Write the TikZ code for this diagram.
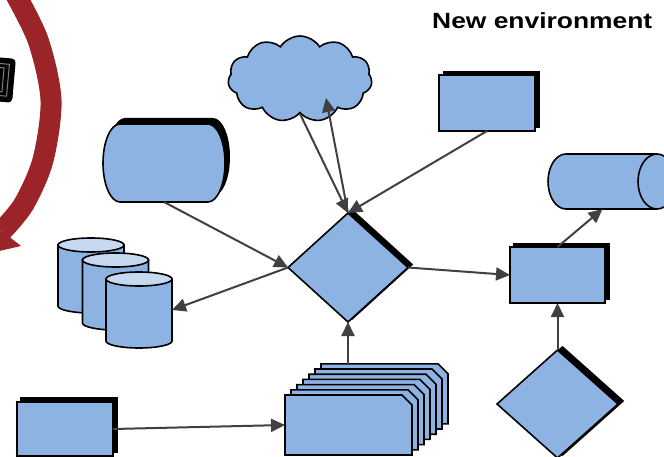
\documentclass[tikz,border=0pt]{standalone}
\usepackage{fontspec}
\setmainfont{Liberation Sans}
\usetikzlibrary{shapes.geometric,shapes.symbols,arrows.meta,calc}
\definecolor{fillblue}{HTML}{8DB3E2}
\definecolor{toplight}{HTML}{C6D9F1}
\definecolor{darkred}{HTML}{9B2428}
\definecolor{arrowgray}{HTML}{404040}
\newcommand\mycyl[4]{%
  \filldraw[blueshape] (#1-33,#2) -- (#1-33,#3) arc[start angle=180,end angle=0,x radius=33,y radius=7] -- (#1+33,#2) -- cycle;
  \filldraw[blueshape, fill=toplight] (#1,#2) ellipse [x radius=33, y radius=7];
  \node[ghost, minimum width=66pt, minimum height=70pt] (#4) at (#1,{(#2+#3)/2}) {};}
\begin{document}
\begin{tikzpicture}[x=1pt,y=-1pt,
  blueshape/.style={fill=fillblue, draw=black, line width=1.6pt},
  ghost/.style={inner sep=0pt, outer sep=0pt, draw=none, fill=none},
  bluebox/.style={blueshape, rectangle, inner sep=0pt, outer sep=0pt, minimum width=96pt, minimum height=56pt},
  dia/.style={blueshape, diamond, inner sep=0pt, outer sep=0pt, minimum width=120pt, minimum height=109pt},
  conn/.style={draw=arrowgray, line width=2pt, -{Triangle[length=14pt,width=13pt]}}]
\useasboundingbox (0,0) rectangle (664,457);
\clip (0,0) rectangle (664,457);

% red circular arrow
\draw[darkred, line width=21pt] plot[smooth] coordinates {(12,-12) (38,40) (51,100) (43,160) (24,204) (2,231)};
\fill[darkred] (21,246) -- (-16.5,254.6) -- (-16.9,216.2) -- cycle;

% black device icon
\begin{scope}[rotate around={-5:(5,80)}]
  \fill[black, rounded corners=4pt] (-14,58) rectangle (14,102);
  \draw[gray, line width=1pt] (-9,64) rectangle (8,96);
  \draw[gray, line width=1pt] (-4,68) rectangle (3,92);
\end{scope}

% title
\node[anchor=base west, inner sep=0pt, font=\bfseries\fontsize{22}{26}\selectfont] (title) at (432,28.3) {\scalebox{1.2}[1]{New environment}};

% cloud
\node[cloud, blueshape, cloud puffs=11, cloud puff arc=115, aspect=1.73, minimum width=144pt, minimum height=86pt, inner sep=0pt] (cloud) at (300,79) {};
\coordinate (cloudin) at (326,98);

% top right rectangle
\node[bluebox, fill=black] at (491.5,99.5) {};
\node[bluebox] (r1) at (487,103) {};

% left drum
\begin{scope}[shift={(5,-6)}]
  \fill[black] (120,124) -- (208,124) arc[start angle=-90,end angle=90,x radius=17,y radius=39] -- (120,202) arc[start angle=90,end angle=270,x radius=17,y radius=39] -- cycle;
\end{scope}
\filldraw[blueshape] (120,124) -- (208,124) arc[start angle=-90,end angle=90,x radius=17,y radius=39] -- (120,202) arc[start angle=90,end angle=270,x radius=17,y radius=39] -- cycle;
\node[ghost, minimum width=122pt, minimum height=78pt] (drum) at (164,163) {};

% cylinders
\mycyl{91}{245}{306}{cylA}
\mycyl{115.5}{260}{323}{cylB}
\mycyl{139}{279}{341}{cylC}

% central diamond
\node[dia, fill=black] at (352,264.5) {};
\node[dia] (d1) at (348,267.5) {};

% right rectangle
\node[bluebox, fill=black, minimum width=95pt] at (561.5,271.5) {};
\node[bluebox, minimum width=95pt] (r2) at (557.5,275) {};

% right horizontal cylinder
\filldraw[blueshape] (657,154) -- (566,154) arc[start angle=270,end angle=90,x radius=18,y radius=27.5] -- (657,209) arc[start angle=90,end angle=-90,x radius=19,y radius=27.5] -- cycle;
\draw[line width=1.6pt] (657,154) arc[start angle=-90,end angle=-270,x radius=19,y radius=27.5];
\node[ghost, minimum width=109pt, minimum height=55pt] (hc) at (602.5,181.5) {};

% bottom right diamond
\node[dia, fill=black, minimum width=121pt, minimum height=108pt] at (562.5,401) {};
\node[dia, minimum width=121pt, minimum height=108pt] (d2) at (557.5,404) {};

% bottom left rectangle
\node[bluebox, fill=black, minimum height=54pt] at (69,425) {};
\node[bluebox, minimum height=54pt] (r3) at (65,429) {};

% stack of documents
\foreach \k in {6,5,...,0} {
  \filldraw[blueshape, shift={({6*\k},{-5.2*\k})}] (285,395) -- (402,395) -- (412,405) -- (412,455) -- (285,455) -- cycle;
}
\node[ghost, minimum width=127pt, minimum height=60pt] (stack) at (348.5,425) {};
\node[ghost, minimum width=127pt, minimum height=60pt] (stackback) at (384.5,393.8) {};

% connectors
\draw[conn] (drum.south) -- (d1.west);
\draw[conn] (d1.west) -- (cylC.east);
\draw[conn] (cloud.south) -- (d1.north);
\draw[conn] (d1.north) -- (cloudin);
\draw[conn] (r1.south) -- (d1.north);
\draw[conn] (d1.east) -- (r2.west);
\draw[conn] (r2.north) -- (hc.south);
\draw[conn] (d2.north) -- (r2.south);
\draw[conn] (r3.east) -- (stack.west);
\draw[conn] (d1.south |- stackback.north) -- (d1.south);
\end{tikzpicture}
\end{document}
